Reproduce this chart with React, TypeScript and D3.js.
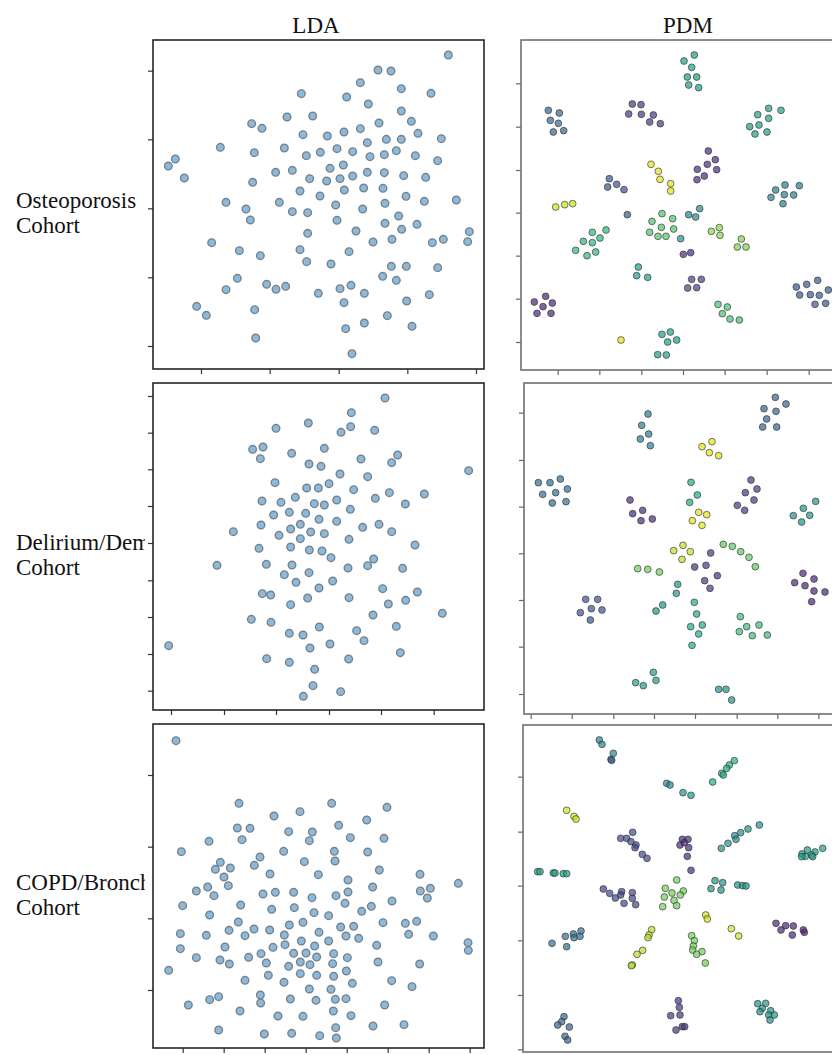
import React, { useEffect, useRef } from 'react';
import * as d3 from 'd3';

type Pt = [number, number];
// [component 1, component 2, cluster value on the viridis map]
type CPt = [number, number, number];

// LDA projection, osteoporosis cohort
const ldaOsteoporosis: Pt[] = [
  [92.5, 92.5], [71.4, 88.0], [75.3, 87.7], [66.1, 84.2], [78.4, 82.4], [48.4, 80.9], [87.3, 81.0],
  [62.0, 79.9], [68.5, 77.8], [78.4, 75.7], [44.1, 73.9], [51.8, 74.2], [33.5, 71.9], [36.6, 70.5],
  [71.7, 72.1], [81.4, 72.6], [48.9, 68.6], [56.2, 68.2], [61.2, 69.4], [66.1, 70.4], [83.4, 69.0],
  [73.9, 67.2], [78.4, 67.2], [90.4, 67.4], [68.2, 66.2], [24.1, 64.8], [43.3, 64.6], [34.3, 63.2],
  [54.1, 63.3], [59.1, 64.4], [63.8, 63.5], [76.9, 63.8], [73.3, 62.6], [10.6, 61.3], [8.5, 59.2],
  [49.9, 62.3], [69.0, 62.0], [82.6, 62.3], [89.3, 60.8], [13.3, 55.6], [40.7, 57.3], [45.7, 57.9],
  [57.0, 58.5], [61.0, 59.5], [50.9, 55.4], [56.0, 54.7], [60.0, 55.4], [63.8, 56.2], [68.2, 57.3],
  [73.3, 57.2], [79.1, 56.3], [85.7, 55.8], [33.8, 54.3], [48.0, 51.7], [61.3, 52.0], [67.1, 52.6],
  [72.9, 52.5], [54.0, 50.2], [79.8, 50.1], [25.8, 48.3], [41.8, 48.3], [73.5, 48.0], [85.3, 48.6],
  [94.9, 49.0], [31.8, 46.3], [58.7, 47.5], [45.7, 45.5], [50.3, 45.2], [66.8, 46.3], [33.1, 43.0],
  [59.1, 42.9], [77.6, 44.2], [73.5, 42.0], [83.1, 41.7], [50.3, 39.0], [64.8, 39.7], [78.5, 40.2],
  [98.8, 39.5], [21.5, 36.2], [69.9, 36.4], [75.6, 37.2], [87.7, 36.2], [91.0, 37.2], [98.3, 36.5],
  [29.8, 33.8], [48.0, 34.1], [62.7, 33.5], [36.1, 32.3], [50.0, 30.5], [57.3, 29.8], [75.4, 29.1],
  [79.9, 29.1], [89.3, 28.7], [29.2, 25.5], [72.8, 26.1], [76.9, 24.9], [38.0, 23.7], [40.8, 22.2],
  [43.7, 23.1], [25.8, 22.1], [60.0, 22.4], [63.3, 23.4], [53.5, 21.0], [67.3, 21.0], [86.8, 20.6],
  [61.2, 18.2], [80.0, 18.7], [17.0, 17.1], [19.9, 14.4], [34.4, 16.1], [74.2, 14.3], [67.3, 12.1],
  [81.6, 11.1], [61.7, 10.4], [34.7, 7.6], [63.6, 2.9],
];

// LDA projection, delirium/dementia cohort
const ldaDelirium: Pt[] = [
  [73.5, 91.6], [63.4, 87.2], [50.5, 84.1], [40.8, 82.5], [63.2, 83.0], [60.3, 81.3], [70.4, 81.9],
  [33.8, 76.2], [36.9, 76.9], [36.1, 73.4], [45.5, 75.0], [55.3, 76.5], [66.3, 73.3], [77.3, 74.5],
  [75.5, 72.2], [50.7, 71.8], [54.3, 71.1], [60.0, 68.8], [68.3, 68.0], [98.6, 69.8], [40.5, 66.2],
  [50.0, 64.6], [53.5, 64.6], [56.7, 65.9], [64.1, 64.1], [36.6, 60.7], [42.3, 60.3], [46.6, 61.8],
  [52.3, 59.9], [55.3, 59.5], [59.0, 61.0], [70.6, 61.5], [74.8, 63.2], [85.3, 62.8], [79.6, 59.8],
  [40.1, 56.5], [44.8, 57.3], [49.7, 57.0], [53.7, 55.2], [63.1, 58.2], [36.3, 53.5], [28.0, 51.5],
  [45.2, 52.3], [48.1, 53.7], [59.0, 54.6], [66.8, 52.8], [71.7, 53.7], [75.5, 51.5], [41.7, 50.4],
  [48.1, 49.4], [51.2, 51.4], [55.3, 50.9], [62.7, 49.2], [35.7, 46.5], [45.2, 46.9], [50.8, 46.0],
  [54.6, 45.7], [82.5, 47.5], [57.3, 43.7], [23.1, 41.4], [37.9, 41.7], [45.6, 41.5], [62.4, 40.6],
  [68.3, 41.3], [70.1, 43.3], [78.8, 40.5], [43.3, 38.6], [50.7, 39.2], [46.8, 36.3], [57.8, 36.7],
  [36.7, 32.9], [39.2, 32.5], [53.7, 34.6], [72.8, 34.4], [83.2, 33.4], [45.2, 29.6], [50.3, 31.6],
  [62.7, 31.7], [74.5, 29.8], [79.7, 30.9], [33.4, 25.2], [39.3, 24.3], [69.9, 26.5], [90.7, 27.0],
  [44.8, 21.0], [48.9, 20.5], [53.8, 22.9], [65.0, 21.8], [76.9, 23.1], [8.6, 17.3], [51.0, 16.6],
  [57.0, 17.8], [67.2, 18.8], [78.1, 15.2], [38.0, 13.4], [44.8, 12.3], [62.6, 13.3], [52.4, 10.2],
  [51.9, 5.3], [60.2, 3.5], [49.0, 2.1],
];

// LDA projection, COPD/bronchitis cohort
const ldaCopd: Pt[] = [
  [10.8, 92.3], [29.7, 73.5], [57.5, 73.5], [74.1, 72.3], [48.0, 71.0], [40.2, 69.7], [68.0, 68.5],
  [59.6, 66.9], [29.2, 66.1], [33.0, 66.0], [44.6, 65.0], [51.7, 64.9], [50.8, 62.3], [30.6, 62.6],
  [63.1, 63.2], [73.2, 63.0], [20.7, 62.1], [12.4, 59.0], [43.1, 59.1], [58.3, 59.1], [68.3, 58.9],
  [24.1, 55.8], [36.0, 57.4], [34.3, 54.9], [49.3, 56.0], [58.5, 56.2], [22.6, 53.7], [27.1, 54.1],
  [71.8, 53.5], [25.2, 51.4], [39.0, 52.3], [53.5, 52.1], [84.0, 52.2], [26.5, 48.8], [20.3, 48.4],
  [16.9, 47.2], [22.2, 45.8], [62.4, 50.5], [69.8, 48.4], [62.4, 46.9], [84.1, 47.2], [87.1, 48.0],
  [86.2, 45.1], [95.5, 49.5], [36.9, 46.3], [40.6, 46.8], [46.1, 46.8], [51.6, 45.2], [58.8, 45.8],
  [75.6, 44.2], [61.5, 43.5], [12.8, 42.8], [30.2, 43.0], [39.5, 41.7], [46.3, 42.2], [66.5, 41.1],
  [69.4, 42.6], [52.2, 40.7], [56.6, 39.8], [20.9, 40.0], [29.5, 37.9], [44.8, 37.0], [48.9, 37.8],
  [60.2, 36.4], [64.1, 36.6], [72.9, 37.7], [79.6, 37.5], [83.0, 38.1], [12.1, 34.4], [19.9, 33.9],
  [26.7, 35.4], [34.2, 35.8], [38.9, 35.5], [31.5, 33.8], [43.3, 34.0], [53.7, 34.8], [61.8, 33.7],
  [65.6, 33.0], [80.6, 34.2], [88.0, 33.7], [12.1, 29.9], [25.5, 30.4], [39.9, 30.3], [43.5, 31.1],
  [48.4, 32.2], [52.4, 30.7], [56.6, 32.2], [71.0, 30.9], [98.4, 31.7], [98.5, 29.4], [16.9, 27.2],
  [24.0, 26.5], [26.8, 25.3], [32.6, 27.3], [36.3, 28.4], [46.1, 28.5], [49.8, 28.6], [53.0, 27.4],
  [58.1, 28.4], [62.2, 27.2], [37.9, 25.6], [44.6, 24.6], [48.1, 25.9], [51.0, 25.1], [57.8, 25.4],
  [71.4, 25.9], [83.9, 25.3], [8.6, 23.4], [38.5, 21.9], [48.1, 22.4], [53.0, 21.9], [58.1, 21.6],
  [61.9, 23.2], [31.5, 20.4], [43.2, 19.8], [63.7, 19.5], [75.5, 20.3], [50.8, 17.8], [57.3, 17.7],
  [81.6, 18.5], [23.6, 15.5], [20.9, 14.6], [36.1, 16.0], [36.2, 13.6], [45.1, 14.8], [52.8, 14.4],
  [58.6, 14.7], [61.8, 14.9], [14.5, 13.0], [30.0, 11.2], [58.0, 11.2], [73.4, 13.0], [41.4, 9.7],
  [48.9, 9.6], [63.3, 9.8], [69.9, 6.7], [79.2, 7.1], [58.7, 6.2], [23.6, 5.5], [37.3, 4.3],
  [45.5, 4.5], [53.9, 3.8], [58.9, 3.1],
];

// PDM projection, osteoporosis cohort
const pdmOsteoporosis: CPt[] = [
  [58.3, 92.5, 0.55], [55.2, 90.7, 0.55], [57.5, 88.8, 0.55], [56.2, 85.9, 0.55], [59.0, 85.9, 0.55], [56.6, 83.5, 0.55], [59.6, 82.7, 0.55],
  [14.5, 75.9, 0.33], [17.8, 75.1, 0.33], [15.1, 72.9, 0.33], [17.5, 72.0, 0.33], [16.0, 69.4, 0.33], [19.1, 69.8, 0.33],
  [39.7, 77.8, 0.15], [42.3, 77.6, 0.15], [38.6, 74.8, 0.15], [42.4, 74.7, 0.15], [46.0, 74.5, 0.15], [44.9, 72.4, 0.15], [48.1, 71.9, 0.15],
  [80.6, 76.5, 0.55], [84.3, 75.9, 0.55], [77.3, 74.6, 0.55], [80.6, 73.5, 0.55], [77.7, 71.5, 0.55], [74.9, 71.0, 0.55], [80.1, 69.4, 0.55], [76.5, 68.8, 0.55],
  [62.5, 63.7, 0.12], [64.6, 61.1, 0.12], [62.2, 59.7, 0.12], [59.2, 58.2, 0.12], [65.0, 58.1, 0.12], [61.3, 56.2, 0.12], [59.1, 55.1, 0.12],
  [45.3, 59.7, 0.95], [47.5, 57.6, 0.95], [48.0, 55.2, 0.95], [51.2, 53.9, 0.95], [51.2, 51.7, 0.95],
  [32.8, 55.4, 0.25], [35.0, 53.7, 0.25], [32.3, 52.9, 0.25], [37.2, 52.1, 0.25],
  [85.5, 53.5, 0.42], [89.8, 53.3, 0.42], [82.7, 52.0, 0.42], [85.3, 50.6, 0.42], [88.1, 50.5, 0.42], [81.3, 49.8, 0.42], [84.9, 47.9, 0.42],
  [16.7, 46.9, 0.92], [19.4, 47.6, 0.92], [21.8, 47.9, 0.92],
  [38.2, 44.6, 0.28],
  [56.6, 44.6, 0.45], [58.7, 43.9, 0.45], [59.9, 46.4, 0.45],
  [48.6, 44.9, 0.72], [45.6, 42.6, 0.72], [51.8, 43.4, 0.72], [48.4, 40.8, 0.72], [52.1, 40.3, 0.72], [44.9, 39.3, 0.72], [47.4, 38.1, 0.72], [49.8, 38.1, 0.72],
  [54.2, 37.4, 0.5],
  [31.8, 40.0, 0.65], [27.7, 39.3, 0.65], [30.0, 37.6, 0.65], [25.0, 36.6, 0.65], [27.7, 36.2, 0.65], [22.7, 33.9, 0.65], [28.7, 33.4, 0.65], [26.1, 32.3, 0.65],
  [63.4, 39.6, 0.82], [65.8, 40.7, 0.82], [66.0, 38.4, 0.82],
  [72.4, 37.3, 0.8], [71.2, 34.9, 0.8], [73.8, 34.9, 0.8],
  [55.0, 32.7, 0.12], [57.2, 33.2, 0.12],
  [41.5, 28.9, 0.55], [41.0, 26.3, 0.55], [44.3, 25.8, 0.55],
  [57.5, 25.2, 0.18], [60.4, 25.2, 0.18], [56.3, 22.6, 0.18], [59.0, 22.7, 0.18],
  [95.3, 24.9, 0.27], [92.0, 23.7, 0.27], [88.9, 22.9, 0.27], [98.5, 22.0, 0.27], [89.9, 20.5, 0.27], [93.1, 20.6, 0.27], [95.8, 20.4, 0.27], [94.5, 17.7, 0.27], [97.7, 18.0, 0.27],
  [13.7, 20.1, 0.1], [10.3, 18.4, 0.1], [15.7, 18.1, 0.1], [12.9, 17.0, 0.1], [11.1, 15.0, 0.1], [15.3, 15.0, 0.1],
  [65.4, 17.7, 0.7], [68.2, 16.9, 0.7], [66.7, 14.9, 0.7], [69.0, 13.3, 0.7], [71.8, 13.0, 0.7],
  [36.3, 7.0, 0.95],
  [48.6, 8.7, 0.55], [51.1, 9.4, 0.55], [50.3, 6.4, 0.55], [53.0, 7.0, 0.55], [47.3, 2.6, 0.55], [49.9, 2.5, 0.55],
];

// PDM projection, delirium/dementia cohort
const pdmDelirium: CPt[] = [
  [82.6, 91.8, 0.3], [85.8, 89.8, 0.3], [79.2, 88.4, 0.3], [82.8, 87.6, 0.3], [80.0, 85.3, 0.3], [78.8, 82.9, 0.3], [83.0, 82.9, 0.3],
  [44.4, 86.8, 0.42], [42.5, 83.4, 0.42], [44.6, 80.8, 0.42], [42.1, 79.3, 0.42], [45.1, 77.3, 0.42],
  [63.6, 78.5, 0.95], [60.6, 77.0, 0.95], [62.8, 75.2, 0.95], [65.6, 74.3, 0.95],
  [11.5, 66.2, 0.35], [15.0, 66.2, 0.35], [18.1, 67.3, 0.35], [20.2, 64.3, 0.35], [12.8, 62.7, 0.35], [16.7, 63.2, 0.35], [15.7, 60.1, 0.35], [19.8, 60.5, 0.35],
  [57.3, 66.3, 0.6], [59.2, 62.5, 0.6], [56.9, 60.3, 0.6],
  [59.6, 57.3, 0.95], [62.0, 56.6, 0.95], [57.7, 54.8, 0.95], [60.6, 53.4, 0.95],
  [75.3, 67.0, 0.15], [77.1, 64.3, 0.15], [73.6, 63.2, 0.15], [76.2, 61.0, 0.15], [71.2, 59.4, 0.15], [73.4, 57.9, 0.15],
  [39.0, 61.0, 0.12], [42.8, 57.9, 0.12], [39.8, 56.9, 0.12], [45.7, 55.3, 0.12], [42.3, 54.8, 0.12],
  [94.7, 60.6, 0.5], [91.0, 58.5, 0.5], [88.0, 56.3, 0.5], [92.9, 56.4, 0.5], [90.5, 54.4, 0.5],
  [54.9, 47.4, 0.9], [52.1, 45.8, 0.9], [57.1, 45.5, 0.9], [54.6, 43.2, 0.9],
  [67.0, 47.7, 0.75], [69.7, 47.1, 0.75], [72.2, 45.5, 0.75], [74.7, 43.8, 0.75], [76.6, 41.0, 0.75],
  [63.2, 45.1, 0.15], [58.4, 40.9, 0.15], [61.8, 41.4, 0.15], [65.2, 38.3, 0.15], [61.4, 36.8, 0.15], [63.0, 34.5, 0.15],
  [41.3, 40.4, 0.78], [44.3, 40.2, 0.78], [47.8, 39.4, 0.78],
  [53.3, 35.7, 0.52], [52.9, 33.0, 0.52], [48.8, 29.5, 0.52], [46.8, 27.7, 0.52],
  [90.9, 39.0, 0.1], [94.2, 37.3, 0.1], [88.4, 36.2, 0.1], [91.5, 35.3, 0.1], [94.2, 33.7, 0.1], [97.5, 33.4, 0.1], [93.5, 30.5, 0.1],
  [25.7, 31.2, 0.25], [29.3, 31.2, 0.25], [27.4, 28.4, 0.25], [30.6, 28.0, 0.25], [24.1, 27.2, 0.25], [27.1, 25.0, 0.25],
  [58.3, 30.3, 0.6], [59.0, 26.8, 0.6], [57.2, 23.0, 0.6], [60.7, 23.5, 0.6], [59.6, 20.8, 0.6], [57.6, 17.4, 0.6],
  [72.1, 26.0, 0.68], [74.0, 23.0, 0.68], [77.7, 23.5, 0.68], [71.8, 21.5, 0.68], [75.7, 20.3, 0.68], [80.2, 20.5, 0.68],
  [46.0, 9.3, 0.55], [40.7, 6.2, 0.55], [46.8, 6.9, 0.55], [43.0, 5.3, 0.55],
  [65.6, 4.2, 0.5], [67.8, 4.2, 0.5], [69.5, 1.0, 0.5],
];

// PDM projection, COPD/bronchitis cohort
const pdmCopd: CPt[] = [
  [29.8, 92.5, 0.45], [30.6, 91.2, 0.45], [34.0, 88.5, 0.45], [33.3, 86.7, 0.3], [33.5, 86.4, 0.3],
  [70.3, 86.3, 0.62], [68.8, 85.0, 0.62], [68.0, 84.0, 0.62], [66.5, 82.5, 0.62], [67.0, 82.0, 0.62], [63.8, 79.9, 0.62],
  [50.0, 79.5, 0.48], [51.0, 79.0, 0.48], [54.9, 76.7, 0.52], [57.3, 75.9, 0.52],
  [20.0, 71.4, 0.93], [22.2, 69.6, 0.93], [22.8, 68.8, 0.93],
  [39.8, 64.8, 0.22], [36.2, 63.0, 0.22], [38.0, 63.0, 0.22], [39.3, 62.0, 0.22], [40.8, 61.0, 0.22], [40.5, 60.2, 0.22], [42.7, 58.2, 0.22], [44.1, 57.0, 0.22],
  [54.7, 62.7, 0.12], [56.4, 62.7, 0.12], [54.0, 61.0, 0.12], [55.3, 61.7, 0.12], [56.6, 60.2, 0.12], [56.2, 57.6, 0.12], [57.3, 53.4, 0.12],
  [77.8, 67.0, 0.5], [74.4, 65.8, 0.5], [72.2, 64.7, 0.5], [70.4, 63.8, 0.5], [70.8, 62.7, 0.5], [68.4, 61.5, 0.5], [66.4, 60.0, 0.5],
  [92.2, 59.5, 0.55], [94.5, 58.9, 0.55], [96.8, 60.0, 0.55], [90.6, 58.3, 0.55], [91.6, 57.6, 0.55], [93.5, 58.0, 0.55], [90.5, 57.5, 0.55], [93.8, 57.5, 0.55],
  [11.3, 53.0, 0.58], [12.0, 53.0, 0.58], [16.0, 52.6, 0.58], [16.5, 52.6, 0.58], [19.0, 52.4, 0.58], [20.0, 52.4, 0.58],
  [31.0, 47.8, 0.2], [32.9, 46.5, 0.2], [34.6, 45.1, 0.2], [36.5, 47.0, 0.2], [37.2, 43.5, 0.2], [36.2, 46.0, 0.2], [39.7, 46.7, 0.2], [39.7, 45.0, 0.2], [40.7, 43.1, 0.2],
  [49.6, 48.0, 0.78], [53.0, 50.5, 0.78], [55.0, 47.2, 0.78], [49.3, 45.4, 0.78], [51.6, 46.6, 0.78], [52.2, 44.4, 0.78], [54.1, 46.0, 0.78], [48.8, 42.5, 0.78], [53.0, 42.8, 0.78],
  [64.5, 50.3, 0.5], [66.8, 49.7, 0.5], [66.3, 47.5, 0.5], [63.3, 47.9, 0.5], [71.3, 49.0, 0.5], [72.8, 48.8, 0.5], [73.8, 48.7, 0.5],
  [61.7, 40.0, 0.93], [62.2, 38.8, 0.93],
  [82.8, 37.5, 0.1], [85.7, 36.8, 0.1], [88.0, 36.7, 0.1], [84.3, 35.5, 0.1], [87.7, 34.0, 0.1], [91.0, 35.5, 0.1], [91.3, 34.8, 0.1],
  [69.4, 35.9, 0.92], [71.6, 33.7, 0.92],
  [45.5, 35.6, 0.88], [44.7, 34.0, 0.88], [44.4, 33.2, 0.88],
  [24.3, 35.2, 0.35], [22.0, 34.3, 0.35], [19.6, 33.6, 0.35], [22.2, 33.2, 0.35], [24.0, 33.6, 0.35], [15.6, 31.5, 0.35], [20.0, 30.5, 0.35],
  [57.5, 33.8, 0.78], [58.3, 32.3, 0.78], [58.0, 30.7, 0.78], [57.8, 29.5, 0.78], [60.6, 29.0, 0.78], [59.0, 28.2, 0.78], [61.6, 25.6, 0.78],
  [42.8, 29.4, 0.88], [41.1, 28.2, 0.88], [39.7, 25.0, 0.88], [39.4, 24.8, 0.88],
  [53.5, 14.3, 0.15], [53.8, 12.3, 0.15], [51.2, 9.8, 0.15], [54.0, 10.0, 0.15], [54.7, 6.5, 0.15], [52.8, 5.5, 0.15], [55.4, 6.5, 0.15],
  [77.3, 13.4, 0.5], [79.7, 13.5, 0.5], [78.7, 12.0, 0.5], [81.2, 11.3, 0.5], [78.0, 11.0, 0.5], [80.6, 10.0, 0.5], [82.3, 10.0, 0.5], [81.0, 8.5, 0.5],
  [19.2, 9.5, 0.3], [18.5, 8.0, 0.3], [17.3, 7.0, 0.3], [20.8, 6.4, 0.3], [19.5, 3.6, 0.3], [20.3, 2.5, 0.3],
];

const columnTitles = ['LDA', 'PDM'];
const cohortLabels = [
  ['Osteoporosis', 'Cohort'],
  ['Delirium/Dementia', 'Cohort'],
  ['COPD/Bronchitis', 'Cohort'],
];

// axis extents and (unlabelled) tick values of each panel
const ldaOsteoDomain = { x: [3.9, 103.2], y: [-1.7, 97] };
const ldaOsteoTicks = { x: [18.3, 38.9, 59.6, 80.2, 100.8], y: [87.8, 67.2, 46.5, 25.8, 5.2] };
const pdmOsteoDomain = { x: [6.3, 105.6], y: [-2, 97] };
const pdmOsteoTicks = { x: [17.3, 29.8, 42.4, 54.9, 67.4, 80.0, 92.6], y: [84, 71, 58, 45.2, 32.3, 19.4, 6.4] };
const ldaDelDomain = { x: [3.9, 103.2], y: [-2, 96.1] };
const ldaDelTicks = { x: [9.3, 25.2, 40.8, 56.7, 72.3, 88.1], y: [92.2, 81.2, 70.2, 59.2, 48.1, 36.9, 25.9, 14.8, 3.8] };
const pdmDelDomain = { x: [7.2, 105.6], y: [-3.2, 96.1] };
const pdmDelTicks = { x: [9.2, 21.5, 34, 46.2, 58.5, 71, 83.2, 95.5], y: [87.2, 73, 59, 45, 31, 17, 2.8] };
const ldaCopdDomain = { x: [3.9, 103.2], y: [0.1, 97.3] };
const ldaCopdTicks = { x: [12.8, 25.1, 37.4, 49.7, 62.0, 74.3, 86.6, 98.9], y: [82, 60.5, 39, 17.5] };
const pdmCopdDomain = { x: [6.9, 105.6], y: [-1.1, 97] };
const pdmCopdTicks = { x: [] as number[], y: [81.5, 65, 48.8, 32.4, 16, -0.3] };

const W = 832;
const H = 1055;
const FONT = "'Liberation Serif', 'Times New Roman', serif";

const panels = [
  { kind: 'lda', pts: ldaOsteoporosis, dom: ldaOsteoDomain, ticks: ldaOsteoTicks, box: { x: 153, y: 40, w: 331, h: 329 } },
  { kind: 'pdm', pts: pdmOsteoporosis, dom: pdmOsteoDomain, ticks: pdmOsteoTicks, box: { x: 521, y: 40, w: 331, h: 330 } },
  { kind: 'lda', pts: ldaDelirium, dom: ldaDelDomain, ticks: ldaDelTicks, box: { x: 153, y: 383, w: 331, h: 327 } },
  { kind: 'pdm', pts: pdmDelirium, dom: pdmDelDomain, ticks: pdmDelTicks, box: { x: 524, y: 383, w: 328, h: 331 } },
  { kind: 'lda', pts: ldaCopd, dom: ldaCopdDomain, ticks: ldaCopdTicks, box: { x: 153, y: 724, w: 331, h: 324 } },
  { kind: 'pdm', pts: pdmCopd, dom: pdmCopdDomain, ticks: pdmCopdTicks, box: { x: 523, y: 725, w: 329, h: 327 } },
];

const titleX = [316, 688];
const labelBaselines = [208, 550, 890];

export default function App() {
  const ref = useRef<SVGSVGElement>(null);

  useEffect(() => {
    const svg = d3.select(ref.current);
    svg.selectAll('*').remove();
    svg.append('rect').attr('width', W).attr('height', H).attr('fill', '#fff');

    columnTitles.forEach((t, i) => {
      svg.append('text')
        .attr('x', titleX[i]).attr('y', 33)
        .attr('text-anchor', 'middle')
        .style('font-family', FONT).style('font-size', '23px').style('fill', '#111')
        .text(t);
    });

    // row labels go under the panels, long names get cut by the panel background
    cohortLabels.forEach((lines, r) => {
      lines.forEach((line, k) => {
        svg.append('text')
          .attr('x', 16).attr('y', labelBaselines[r] + k * 25)
          .style('font-family', FONT).style('font-size', '23px').style('fill', '#111')
          .text(line);
      });
    });

    panels.forEach((p, i) => {
      const { box } = p;
      const x = d3.scaleLinear().domain(p.dom.x).range([box.x, box.x + box.w]);
      const y = d3.scaleLinear().domain(p.dom.y).range([box.y + box.h, box.y]);
      const isLda = p.kind === 'lda';
      const g = svg.append('g');

      g.append('rect')
        .attr('x', box.x - 8).attr('y', box.y)
        .attr('width', box.w + 8).attr('height', box.h)
        .attr('fill', '#fff');

      const clipId = `clip-${i}`;
      g.append('clipPath').attr('id', clipId)
        .append('rect').attr('x', box.x).attr('y', box.y).attr('width', box.w).attr('height', box.h);

      const dots = g.append('g').attr('clip-path', `url(#${clipId})`);
      if (isLda) {
        dots.selectAll('circle')
          .data(p.pts as Pt[])
          .join('circle')
          .attr('cx', d => x(d[0]))
          .attr('cy', d => y(d[1]))
          .attr('r', 3.8)
          .attr('fill', '#8fb9d9')
          .attr('stroke', '#74838f')
          .attr('stroke-width', 1.4);
      } else {
        dots.selectAll('circle')
          .data(p.pts as CPt[])
          .join('circle')
          .attr('cx', d => x(d[0]))
          .attr('cy', d => y(d[1]))
          .attr('r', 3.4)
          .attr('fill', d => d3.interpolateViridis(d[2]))
          .attr('fill-opacity', 0.7)
          .attr('stroke', '#333')
          .attr('stroke-opacity', 0.65)
          .attr('stroke-width', 1);
      }

      const axisColor = isLda ? '#333' : '#666';
      const yAxis = d3.axisLeft(y).tickValues(p.ticks.y).tickSize(5).tickSizeOuter(0).tickFormat(() => '');
      const xAxis = d3.axisBottom(x).tickValues(p.ticks.x).tickSize(5).tickSizeOuter(0).tickFormat(() => '');
      const ya = g.append('g').attr('transform', `translate(${box.x},0)`).call(yAxis);
      const xa = g.append('g').attr('transform', `translate(0,${box.y + box.h})`).call(xAxis);
      [ya, xa].forEach(a => {
        a.select('.domain').remove();
        a.selectAll('line').attr('stroke', axisColor).attr('stroke-width', 1.2);
      });

      g.append('rect')
        .attr('x', box.x).attr('y', box.y)
        .attr('width', box.w).attr('height', box.h)
        .attr('fill', 'none')
        .attr('stroke', isLda ? '#262626' : '#707070')
        .attr('stroke-width', 1.6);
    });
  }, []);

  return (
    <svg
      ref={ref}
      width={W}
      height={H}
      style={{ position: 'absolute', left: 0, top: 0, display: 'block' }}
    />
  );
}
